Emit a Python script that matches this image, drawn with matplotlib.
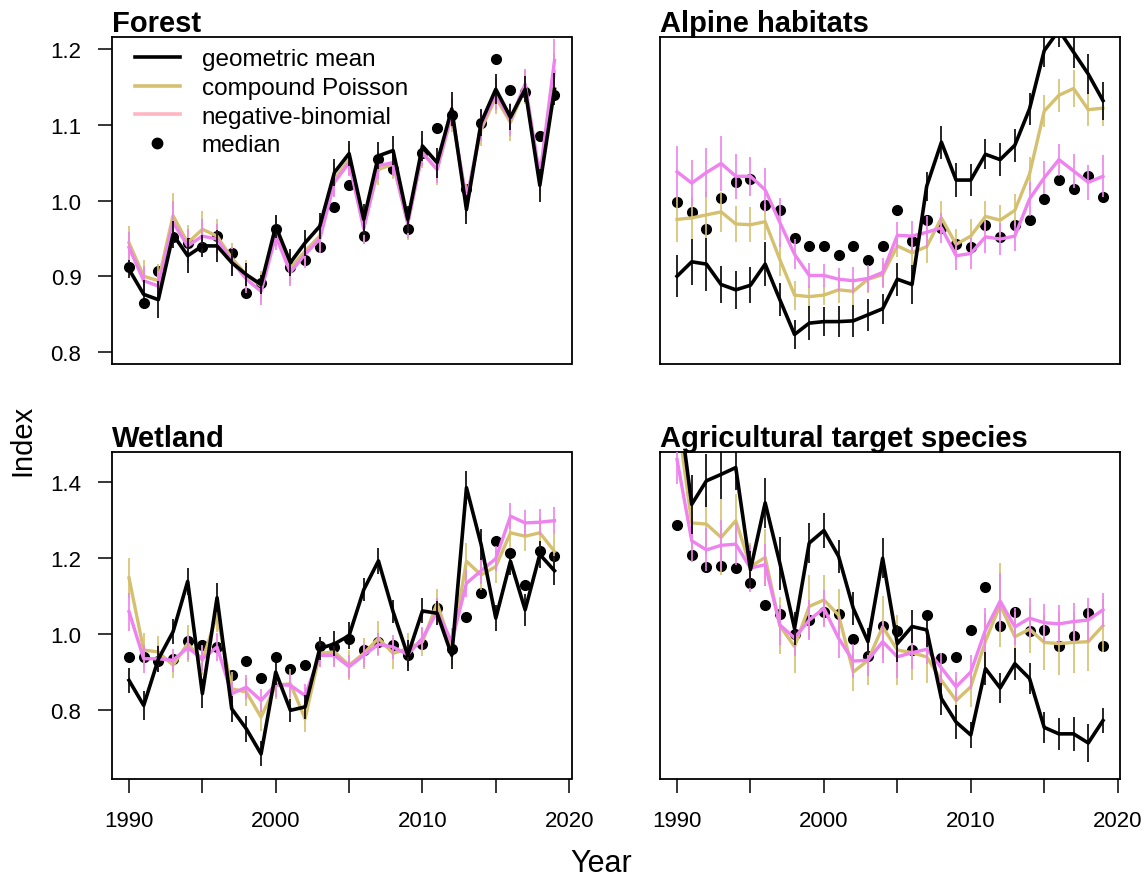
import matplotlib
matplotlib.use("Agg")
import matplotlib.pyplot as plt
from matplotlib.lines import Line2D
import numpy as np

plt.rcParams["font.family"] = ["Liberation Sans", "DejaVu Sans"]

years = np.arange(1990, 2020)

# Forest
forest_geo = [0.909, 0.876, 0.869, 0.955, 0.927, 0.940, 0.940, 0.918, 0.902, 0.889,
              0.966, 0.918, 0.944, 0.966, 1.037, 1.062, 0.975, 1.059, 1.066, 0.975,
              1.072, 1.050, 1.121, 0.988, 1.103, 1.147, 1.110, 1.147, 1.020, 1.147]
forest_geo_se = [0.012, 0.019, 0.024, 0.018, 0.023, 0.015, 0.021, 0.018, 0.015, 0.013,
                 0.015, 0.018, 0.017, 0.017, 0.018, 0.017, 0.020, 0.018, 0.019, 0.018,
                 0.020, 0.020, 0.022, 0.019, 0.018, 0.020, 0.017, 0.017, 0.022, 0.021]
forest_cp = [0.944, 0.900, 0.894, 0.980, 0.944, 0.962, 0.953, 0.924, 0.902, 0.887,
             0.960, 0.911, 0.933, 0.953, 1.028, 1.054, 0.965, 1.041, 1.048, 0.970,
             1.063, 1.041, 1.112, 1.000, 1.094, 1.136, 1.103, 1.149, 1.028, 1.171]
forest_cp_se = [0.022, 0.022, 0.022, 0.030, 0.024, 0.024, 0.022, 0.020, 0.020, 0.020,
                0.020, 0.020, 0.020, 0.020, 0.022, 0.020, 0.022, 0.020, 0.020, 0.022,
                0.020, 0.020, 0.022, 0.022, 0.022, 0.022, 0.024, 0.022, 0.022, 0.024]
forest_nb = [0.938, 0.894, 0.887, 0.971, 0.940, 0.953, 0.949, 0.920, 0.896, 0.880,
             0.953, 0.905, 0.929, 0.949, 1.024, 1.050, 0.963, 1.046, 1.050, 0.970,
             1.063, 1.041, 1.116, 1.000, 1.099, 1.140, 1.107, 1.154, 1.032, 1.185]
forest_nb_se = [0.020, 0.020, 0.020, 0.028, 0.022, 0.022, 0.020, 0.018, 0.018, 0.018,
                0.018, 0.018, 0.018, 0.018, 0.020, 0.018, 0.020, 0.018, 0.018, 0.020,
                0.018, 0.018, 0.020, 0.020, 0.020, 0.020, 0.022, 0.020, 0.020, 0.028]
forest_med = [0.912, 0.864, 0.907, 0.952, 0.944, 0.938, 0.953, 0.931, 0.878, 0.891,
              0.962, 0.912, 0.922, 0.938, 0.992, 1.020, 0.953, 1.055, 1.042, 0.963,
              1.063, 1.096, 1.113, 1.015, 1.102, 1.187, 1.146, 1.143, 1.085, 1.139]

# Alpine habitats
alpine_geo = [0.900, 0.919, 0.916, 0.889, 0.882, 0.888, 0.916, 0.869, 0.823, 0.838,
              0.840, 0.840, 0.841, 0.849, 0.857, 0.896, 0.889, 1.019, 1.077, 1.027,
              1.027, 1.061, 1.054, 1.073, 1.121, 1.198, 1.225, 1.196, 1.167, 1.132]
alpine_geo_se = [0.028, 0.030, 0.035, 0.025, 0.025, 0.024, 0.029, 0.022, 0.019, 0.022,
                 0.019, 0.020, 0.021, 0.021, 0.020, 0.022, 0.026, 0.019, 0.022, 0.022,
                 0.021, 0.020, 0.022, 0.022, 0.021, 0.022, 0.022, 0.021, 0.026, 0.025]
alpine_cp = [0.975, 0.977, 0.981, 0.985, 0.969, 0.968, 0.972, 0.922, 0.875, 0.873,
             0.875, 0.882, 0.880, 0.896, 0.902, 0.940, 0.931, 0.939, 0.977, 0.942,
             0.953, 0.979, 0.974, 0.987, 1.035, 1.118, 1.139, 1.148, 1.120, 1.122]
alpine_cp_se = [0.030, 0.028, 0.030, 0.026, 0.024, 0.023, 0.024, 0.022, 0.019, 0.015,
                0.013, 0.018, 0.018, 0.018, 0.017, 0.015, 0.018, 0.022, 0.022, 0.020,
                0.022, 0.020, 0.020, 0.021, 0.022, 0.021, 0.022, 0.024, 0.022, 0.024]
alpine_nb = [1.038, 1.023, 1.037, 1.049, 1.032, 1.032, 1.014, 0.971, 0.929, 0.901,
             0.901, 0.896, 0.894, 0.897, 0.905, 0.954, 0.953, 0.958, 0.964, 0.927,
             0.930, 0.952, 0.949, 0.953, 1.002, 1.030, 1.054, 1.039, 1.024, 1.032]
alpine_nb_se = [0.034, 0.030, 0.033, 0.036, 0.030, 0.026, 0.029, 0.032, 0.020, 0.017,
                0.015, 0.015, 0.018, 0.018, 0.019, 0.018, 0.020, 0.021, 0.020, 0.019,
                0.021, 0.021, 0.021, 0.020, 0.022, 0.022, 0.021, 0.022, 0.023, 0.028]
alpine_med = [0.998, 0.985, 0.963, 1.003, 1.024, 1.029, 0.994, 0.987, 0.950, 0.940,
              0.940, 0.928, 0.940, 0.921, 0.940, 0.988, 0.947, 0.974, 0.964, 0.943,
              0.939, 0.967, 0.952, 0.967, 0.974, 1.002, 1.027, 1.015, 1.033, 1.005]

# Wetland
wetland_geo = [0.878, 0.812, 0.934, 1.006, 1.139, 0.843, 1.096, 0.803, 0.750, 0.684,
               0.900, 0.799, 0.808, 0.962, 0.974, 0.996, 1.117, 1.193, 1.059, 0.944,
               1.061, 1.055, 0.944, 1.386, 1.236, 1.042, 1.192, 1.064, 1.210, 1.167]
wetland_geo_se = [0.033, 0.038, 0.035, 0.033, 0.035, 0.038, 0.038, 0.035, 0.035, 0.033,
                  0.033, 0.031, 0.031, 0.031, 0.033, 0.035, 0.031, 0.035, 0.031, 0.040,
                  0.033, 0.031, 0.037, 0.044, 0.040, 0.035, 0.035, 0.042, 0.035, 0.038]
wetland_cp = [1.148, 0.958, 0.953, 0.918, 0.975, 0.931, 1.050, 0.856, 0.847, 0.781,
              0.865, 0.869, 0.777, 0.949, 0.953, 0.918, 0.949, 0.989, 0.949, 0.962,
              0.980, 1.081, 0.966, 1.192, 1.156, 1.178, 1.267, 1.258, 1.267, 1.218]
wetland_cp_se = [0.053, 0.046, 0.042, 0.033, 0.049, 0.040, 0.044, 0.044, 0.037, 0.037,
                 0.035, 0.040, 0.035, 0.037, 0.035, 0.040, 0.042, 0.046, 0.040, 0.042,
                 0.037, 0.037, 0.048, 0.049, 0.040, 0.044, 0.044, 0.040, 0.042, 0.046]
wetland_nb = [1.059, 0.935, 0.935, 0.931, 0.964, 0.935, 0.966, 0.843, 0.860, 0.825,
              0.867, 0.865, 0.838, 0.944, 0.944, 0.914, 0.944, 0.973, 0.966, 0.946,
              0.989, 1.059, 0.980, 1.134, 1.167, 1.199, 1.311, 1.293, 1.295, 1.299]
wetland_nb_se = [0.050, 0.037, 0.035, 0.031, 0.033, 0.033, 0.037, 0.031, 0.031, 0.031,
                 0.033, 0.031, 0.031, 0.031, 0.031, 0.031, 0.031, 0.029, 0.031, 0.033,
                 0.031, 0.035, 0.035, 0.035, 0.035, 0.033, 0.035, 0.035, 0.035, 0.035]
wetland_med = [0.940, 0.940, 0.928, 0.934, 0.982, 0.971, 0.966, 0.891, 0.928, 0.884,
               0.940, 0.909, 0.918, 0.969, 0.966, 0.986, 0.958, 0.978, 0.971, 0.944,
               0.975, 1.070, 0.960, 1.044, 1.108, 1.246, 1.214, 1.130, 1.220, 1.205]

# Agricultural target species
agri_geo = [1.640, 1.342, 1.404, 1.421, 1.439, 1.170, 1.346, 1.187, 1.015, 1.240,
            1.273, 1.205, 1.068, 0.980, 1.200, 0.975, 1.020, 1.011, 0.830, 0.768,
            0.734, 0.909, 0.858, 0.922, 0.883, 0.754, 0.737, 0.737, 0.713, 0.772]
agri_geo_se = [0.080, 0.077, 0.070, 0.064, 0.060, 0.049, 0.066, 0.070, 0.044, 0.053,
               0.045, 0.044, 0.044, 0.035, 0.053, 0.048, 0.044, 0.044, 0.042, 0.044,
               0.035, 0.044, 0.040, 0.042, 0.042, 0.040, 0.042, 0.044, 0.049, 0.033]
agri_cp = [1.580, 1.293, 1.290, 1.255, 1.299, 1.178, 1.202, 1.022, 0.967, 1.073,
           1.090, 1.050, 0.900, 0.931, 1.019, 0.958, 0.951, 0.940, 0.878, 0.825,
           0.861, 0.982, 1.077, 0.993, 1.013, 0.978, 0.975, 0.978, 0.980, 1.022]
agri_cp_se = [0.090, 0.070, 0.080, 0.100, 0.070, 0.062, 0.075, 0.075, 0.070, 0.084,
              0.066, 0.068, 0.049, 0.064, 0.082, 0.093, 0.073, 0.068, 0.035, 0.060,
              0.053, 0.070, 0.110, 0.066, 0.062, 0.073, 0.082, 0.080, 0.077, 0.070]
agri_nb = [1.460, 1.246, 1.222, 1.234, 1.237, 1.174, 1.183, 1.024, 0.990, 1.037,
           1.068, 0.989, 0.929, 0.931, 0.980, 0.940, 0.951, 0.960, 0.911, 0.861,
           0.900, 1.011, 1.087, 1.019, 1.042, 1.030, 1.027, 1.033, 1.037, 1.064]
agri_nb_se = [0.065, 0.055, 0.057, 0.066, 0.055, 0.062, 0.055, 0.053, 0.049, 0.053,
              0.049, 0.053, 0.044, 0.042, 0.055, 0.055, 0.044, 0.040, 0.040, 0.040,
              0.044, 0.057, 0.075, 0.049, 0.053, 0.050, 0.050, 0.050, 0.057, 0.045]
agri_med = [1.287, 1.209, 1.176, 1.180, 1.174, 1.134, 1.077, 1.052, 1.000, 1.037,
            1.057, 1.052, 0.987, 0.943, 1.022, 1.008, 0.958, 1.050, 0.937, 0.940,
            1.011, 1.125, 1.022, 1.059, 1.008, 1.011, 0.969, 0.995, 1.055, 0.969]

GEO_COL = "black"
CP_COL = "#D5C070"
NB_COL = "violet"
NB_LEGEND_COL = "#FFB6C1"


def draw_panel(ax, title, geo, geo_se, cp, cp_se, nb, nb_se, med):
    ax.plot(years, med, "o", color="black", markersize=7, zorder=1)
    for y, se, col, lw, z in [(cp, cp_se, CP_COL, 2.4, 2),
                              (nb, nb_se, NB_COL, 2.4, 3),
                              (geo, geo_se, GEO_COL, 2.6, 4)]:
        ax.errorbar(years, y, yerr=se, fmt="none", ecolor=col,
                    elinewidth=1.2, capsize=0, zorder=z)
        ax.plot(years, y, color=col, lw=lw, zorder=z)
    ax.set_title(title, loc="left", fontsize=21, fontweight="bold", pad=3)
    ax.set_xlim(1988.84, 2020.16)
    for s in ax.spines.values():
        s.set_linewidth(1.3)
    ax.tick_params(length=10, width=1.1, labelsize=16)
    ax.tick_params(axis="x", pad=12.5)
    ax.tick_params(axis="y", pad=12)


fig = plt.figure(figsize=(11.48, 8.79), dpi=100)
W, H = 1148, 879


def make_axes(left, top, right, bottom):
    return fig.add_axes([left / W, 1 - bottom / H, (right - left) / W, (bottom - top) / H])


ax_forest = make_axes(112, 38, 571.5, 365)
ax_alpine = make_axes(660, 38, 1120, 365)
ax_wetland = make_axes(112, 453, 571.5, 780)
ax_agri = make_axes(660, 453, 1120, 780)

draw_panel(ax_forest, "Forest", forest_geo, forest_geo_se, forest_cp, forest_cp_se,
           forest_nb, forest_nb_se, forest_med)
draw_panel(ax_alpine, "Alpine habitats", alpine_geo, alpine_geo_se, alpine_cp, alpine_cp_se,
           alpine_nb, alpine_nb_se, alpine_med)
draw_panel(ax_wetland, "Wetland", wetland_geo, wetland_geo_se, wetland_cp, wetland_cp_se,
           wetland_nb, wetland_nb_se, wetland_med)
draw_panel(ax_agri, "Agricultural target species", agri_geo, agri_geo_se, agri_cp, agri_cp_se,
           agri_nb, agri_nb_se, agri_med)

for ax in (ax_forest, ax_alpine):
    ax.set_ylim(0.784, 1.216)
    ax.set_yticks([0.8, 0.9, 1.0, 1.1, 1.2])
    ax.set_xticks([])
for ax in (ax_wetland, ax_agri):
    ax.set_ylim(0.618, 1.480)
    ax.set_yticks([0.8, 1.0, 1.2, 1.4])
    ax.set_xticks(np.arange(1990, 2021, 5))
    ax.set_xticklabels(["1990", "", "2000", "", "2010", "", "2020"])
for ax in (ax_forest, ax_wetland):
    ax.yaxis.set_major_formatter(matplotlib.ticker.FormatStrFormatter("%.1f"))
for ax in (ax_alpine, ax_agri):
    ax.set_yticks([])

handles = [Line2D([], [], color=GEO_COL, lw=2.6),
           Line2D([], [], color=CP_COL, lw=2.6),
           Line2D([], [], color=NB_LEGEND_COL, lw=2.6),
           Line2D([], [], color="black", marker="o", ls="none", markersize=7.5)]
ax_forest.legend(handles, ["geometric mean", "compound Poisson", "negative-binomial", "median"],
                 loc="upper left", bbox_to_anchor=(0.05, 0.965), frameon=False,
                 fontsize=17.5, borderpad=0, borderaxespad=0, handlelength=1.85,
                 handletextpad=0.9, labelspacing=0.27)

fig.text(22 / W, 1 - 440 / H, "Index", rotation=90, fontsize=21, ha="center", va="center")
fig.text(601 / W, 1 - 864 / H, "Year", fontsize=22, ha="center", va="center")

fig.savefig("out.png", dpi=100)
